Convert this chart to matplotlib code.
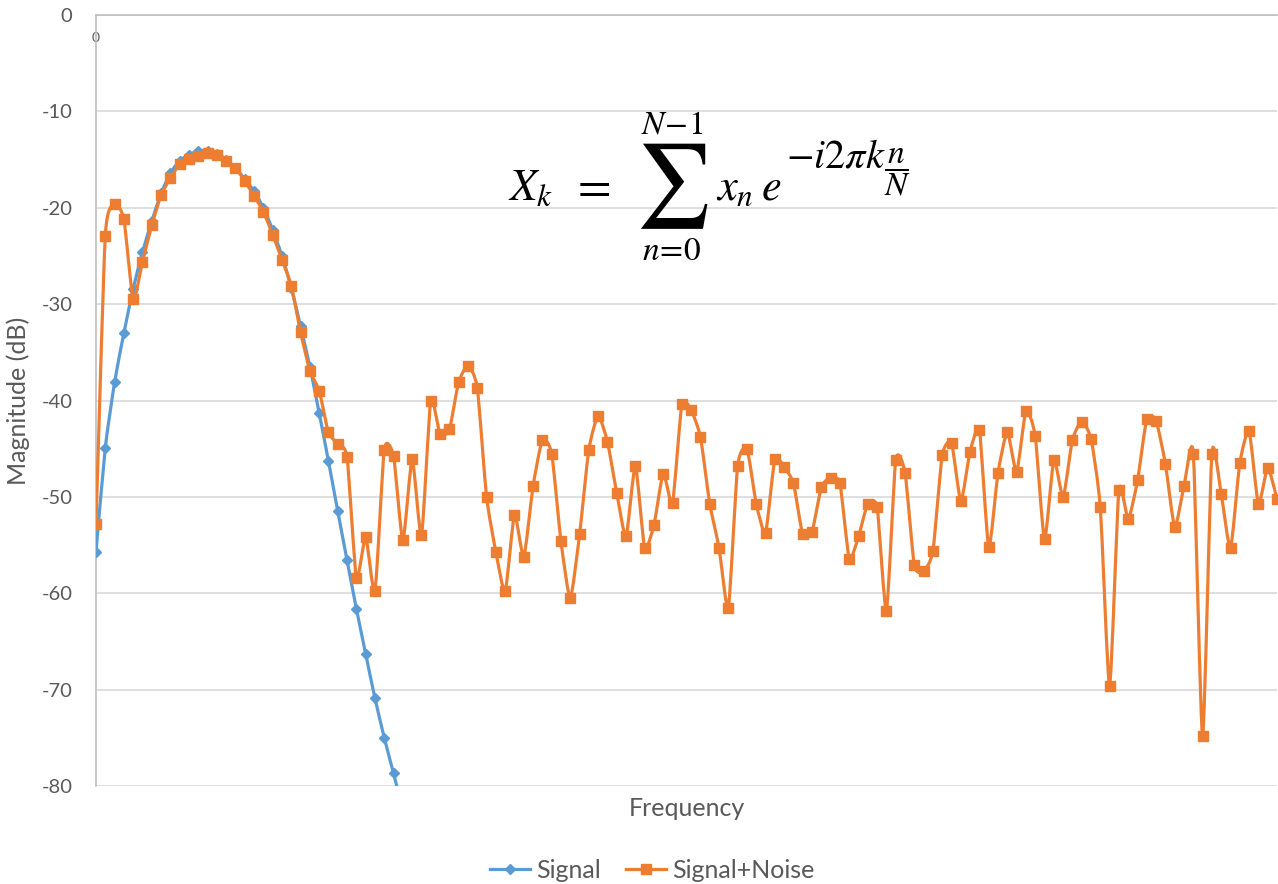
import matplotlib
matplotlib.use("Agg")
import matplotlib.pyplot as plt
from matplotlib.path import Path
from matplotlib.patches import PathPatch
from matplotlib.lines import Line2D
import numpy as np

plt.rcParams['font.family'] = ['Lato', 'DejaVu Sans']
plt.rcParams['mathtext.fontset'] = 'stix'

# magnitude in dB, one value per frequency bin
signal = [-55.7, -44.9, -38.1, -33.0, -28.4, -24.6, -21.4, -18.5, -16.4, -15.1,
          -14.5, -14.1, -14.1, -14.4, -15.0, -15.9, -17.0, -18.3, -20.0, -22.3,
          -25.0, -28.3, -32.3, -36.5, -41.3, -46.3, -51.5, -56.6, -61.6, -66.3,
          -70.9, -75.0, -78.7, -82.5]

signal_noise = [-52.8, -22.9, -19.6, -21.2, -29.5, -25.6, -21.8, -18.7, -16.9, -15.5,
                -14.9, -14.6, -14.3, -14.5, -15.1, -15.9, -17.2, -18.8, -20.4, -22.8,
                -25.4, -28.1, -32.9, -36.9, -39.0, -43.3, -44.5, -45.9, -58.4, -54.2,
                -59.8, -45.1, -45.8, -54.5, -46.1, -54.0, -40.0, -43.5, -43.0, -38.1,
                -36.4, -38.7, -50.0, -55.7, -59.8, -51.9, -56.2, -48.9, -44.1, -45.5,
                -54.6, -60.5, -53.9, -45.1, -41.6, -44.3, -49.6, -54.1, -46.8, -55.3,
                -52.9, -47.6, -50.6, -40.4, -41.0, -43.8, -50.7, -55.3, -61.5, -46.8,
                -45.0, -50.7, -53.7, -46.1, -46.9, -48.6, -53.9, -53.6, -49.0, -48.0,
                -48.6, -56.4, -54.1, -50.7, -51.1, -61.8, -46.2, -47.5, -57.1, -57.7,
                -55.6, -45.7, -44.4, -50.4, -45.3, -43.1, -55.2, -47.5, -43.3, -47.4,
                -41.1, -43.7, -54.4, -46.2, -50.0, -44.1, -42.2, -44.0, -51.1, -69.6,
                -49.3, -52.3, -48.3, -41.9, -42.1, -46.6, -53.1, -48.9, -45.5, -74.8,
                -45.5, -49.7, -55.3, -46.5, -43.2, -50.7, -47.0, -50.2]

y_ticks = [0, -10, -20, -30, -40, -50, -60, -70, -80]

BLUE = '#5B9BD5'
ORANGE = '#ED7D31'
GRAY = '#595959'


def smooth_path(xs, ys, k=1 / 10):
    # excel-like smoothed line: cardinal spline turned into bezier segments
    n = len(xs)
    verts = [(xs[0], ys[0])]
    codes = [Path.MOVETO]
    for i in range(n - 1):
        a = max(i - 1, 0)
        d = min(i + 2, n - 1)
        c1 = (xs[i] + (xs[i + 1] - xs[a]) * k, ys[i] + (ys[i + 1] - ys[a]) * k)
        c2 = (xs[i + 1] - (xs[d] - xs[i]) * k, ys[i + 1] - (ys[d] - ys[i]) * k)
        verts += [c1, c2, (xs[i + 1], ys[i + 1])]
        codes += [Path.CURVE4] * 3
    return Path(verts, codes)


W, H = 1278, 884
fig = plt.figure(figsize=(W / 100, H / 100), dpi=100)
ax = fig.add_axes([96 / W, 1 - 786 / H, (1277 - 96) / W, (786 - 15) / H])

x1 = np.arange(len(signal))
x2 = np.arange(len(signal_noise))

ax.add_patch(PathPatch(smooth_path(x1, signal), fill=False, ec=BLUE, lw=2.3, zorder=3))
ax.plot(x1, signal, ls='none', marker='D', ms=5, color=BLUE, zorder=4)
ax.add_patch(PathPatch(smooth_path(x2, signal_noise), fill=False, ec=ORANGE, lw=2.3, zorder=5))
ax.plot(x2, signal_noise, ls='none', marker='s', ms=7, color=ORANGE, zorder=6)

ax.set_xlim(0, len(signal_noise) - 1)
ax.set_ylim(-80, 0)
ax.set_yticks(y_ticks)
ax.set_yticklabels([str(v) for v in y_ticks])
ax.yaxis.grid(True, color='#D9D9D9', lw=1.2)
ax.set_axisbelow(True)
ax.tick_params(axis='y', length=0, pad=17, labelsize=14.5, labelcolor=GRAY)

# category axis sits at 0 (top), single label just under it
ax.set_xticks([0])
ax.set_xticklabels(['0'])
ax.xaxis.set_ticks_position('top')
ax.tick_params(axis='x', length=0, pad=-21, labelsize=10, labelcolor=GRAY)
ax.xaxis.set_label_position('bottom')
ax.set_xlabel('Frequency', fontsize=18, color=GRAY, labelpad=8)
ax.set_ylabel('Magnitude (dB)', fontsize=18, color=GRAY, labelpad=8)

for s in ['right', 'bottom']:
    ax.spines[s].set_visible(False)
for s in ['left', 'top']:
    ax.spines[s].set_color('#BFBFBF')
    ax.spines[s].set_linewidth(1.2)

handles = [Line2D([], [], color=BLUE, lw=2.3, marker='D', ms=5),
           Line2D([], [], color=ORANGE, lw=2.3, marker='s', ms=7)]
fig.legend(handles, ['Signal', 'Signal+Noise'], loc='center',
           bbox_to_anchor=(652 / W, 1 - 870 / H), ncol=2, frameon=False,
           fontsize=18, labelcolor=GRAY, handlelength=1.6, handletextpad=0.25,
           columnspacing=1.0)

# DFT formula, assembled in pieces so the sum sign and exponent are large
def px(x, y):
    return x / W, 1 - y / H

fig.text(*px(508, 200), r'$X_k$', fontsize=32, va='baseline', ha='left')
fig.text(*px(590, 200), r'$=$', fontsize=35, va='baseline', ha='center')
fig.text(*px(672, 186), r'$\sum$', fontsize=60, va='center', ha='center')
fig.text(*px(672, 125), r'$N\!-\!1$', fontsize=24, va='center', ha='center')
fig.text(*px(672, 251), r'$n\!=\!0$', fontsize=24, va='center', ha='center')
fig.text(*px(716, 200), r'$x_n$', fontsize=32, va='baseline', ha='left')
fig.text(*px(761, 200), r'$e$', fontsize=32, va='baseline', ha='left')
fig.text(*px(786, 167), r'$-i2\pi k$', fontsize=29, va='baseline', ha='left')
fig.text(*px(897, 172), r'$\dfrac{n}{N}$', fontsize=24, va='center', ha='center')

fig.savefig('out.png', dpi=100)
